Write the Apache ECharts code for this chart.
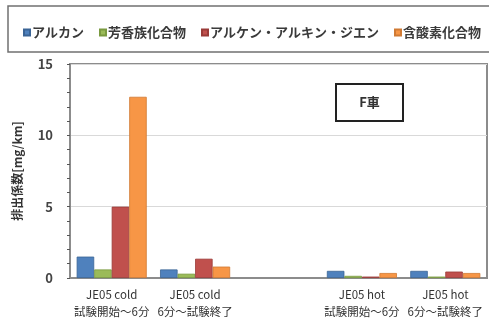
<!DOCTYPE html>
<html>
<head>
<meta charset="utf-8">
<script src="https://cdn.jsdelivr.net/npm/echarts@6/dist/echarts.min.js"></script>
<style>
  html, body { margin: 0; padding: 0; background: #fff; }
  #chart { width: 489px; height: 320px; }
</style>
</head>
<body>
<div id="chart"></div>
<script>
// Emission factors by test segment (blank slot separates cold and hot runs)
const categories = [
  'JE05 cold\n試験開始～6分',
  'JE05 cold\n6分～試験終了',
  '',
  'JE05 hot\n試験開始～6分',
  'JE05 hot\n6分～試験終了'
];
const seriesNames = ['アルカン', '芳香族化合物', 'アルケン・アルキン・ジエン', '含酸素化合物'];
const alkane    = [1.5, 0.6, null, 0.5, 0.5];
const aromatic  = [0.6, 0.3, null, 0.15, 0.1];
const alkene    = [5.0, 1.35, null, 0.1, 0.45];
const oxygenate = [12.7, 0.8, null, 0.35, 0.35];
const yTicks = [0, 5, 10, 15];
const vehicleLabel = 'F車';

const colors = ['#4F81BD', '#9BBB59', '#C0504D', '#F79646'];
const borders = ['#3A6496', '#7A9A40', '#9A3B38', '#D07A34'];
const values = [alkane, aromatic, alkene, oxygenate];
const jp = '"Noto Sans CJK JP", "Noto Sans", sans-serif';

const chart = echarts.init(document.getElementById('chart'), null, { renderer: 'canvas' });

chart.setOption({
  animation: false,
  textStyle: { fontFamily: jp },
  legend: {
    top: 21,
    left: 18,
    itemWidth: 6,
    itemHeight: 6,
    itemGap: 15,
    icon: 'rect',
    textStyle: { fontFamily: jp, fontSize: 13, fontWeight: 'bold', color: '#3a3a3a', padding: [0, 0, 0, -3] },
    data: seriesNames
  },
  grid: {
    left: 70, right: 2, top: 64, bottom: 40,
    show: true,
    borderColor: '#8c8c8c',
    borderWidth: 2,
    backgroundColor: '#fff'
  },
  xAxis: {
    type: 'category',
    data: categories,
    axisLine: { lineStyle: { color: '#8c8c8c', width: 2 } },
    axisTick: { show: false },
    axisLabel: {
      interval: 0,
      fontFamily: jp,
      fontSize: 11.5,
      lineHeight: 17,
      color: '#333',
      margin: 8
    }
  },
  yAxis: {
    type: 'value',
    min: yTicks[0],
    max: yTicks[yTicks.length - 1],
    interval: 5,
    name: '排出係数[mg/km]',
    nameLocation: 'middle',
    nameGap: 47,
    nameTextStyle: { fontFamily: jp, fontSize: 12, fontWeight: 'bold', color: '#333' },
    axisLine: { show: true, lineStyle: { color: '#8c8c8c', width: 2 } },
    axisTick: { show: true, length: 3, lineStyle: { color: '#555' } },
    minorTick: { show: true, splitNumber: 5, length: 3, lineStyle: { color: '#555' } },
    splitLine: { show: true, lineStyle: { color: '#d9d9d9', width: 1 } },
    axisLabel: {
      fontFamily: jp,
      fontSize: 13,
      fontWeight: 'bold',
      color: '#444',
      margin: 17
    }
  },
  series: values.map((v, i) => ({
    name: seriesNames[i],
    type: 'bar',
    data: v,
    barGap: '0%',
    barCategoryGap: '16%',
    itemStyle: { color: colors[i], borderColor: borders[i], borderWidth: 0.8 }
  })),
  graphic: [
    {
      type: 'rect',
      shape: { x: 8, y: 6, width: 490, height: 46 },
      style: { fill: 'none', stroke: '#707070', lineWidth: 1.5 },
      silent: true,
      z: -1
    },
    {
      type: 'rect',
      shape: { x: 336, y: 84, width: 67, height: 37 },
      style: { fill: '#fff', stroke: '#222', lineWidth: 2 },
      z: 10
    },
    {
      type: 'text',
      x: 369.5, y: 102.5,
      style: {
        text: vehicleLabel,
        font: 'bold 13px ' + jp,
        fill: '#333',
        align: 'center',
        verticalAlign: 'middle'
      },
      z: 11
    }
  ]
});
</script>
</body>
</html>
